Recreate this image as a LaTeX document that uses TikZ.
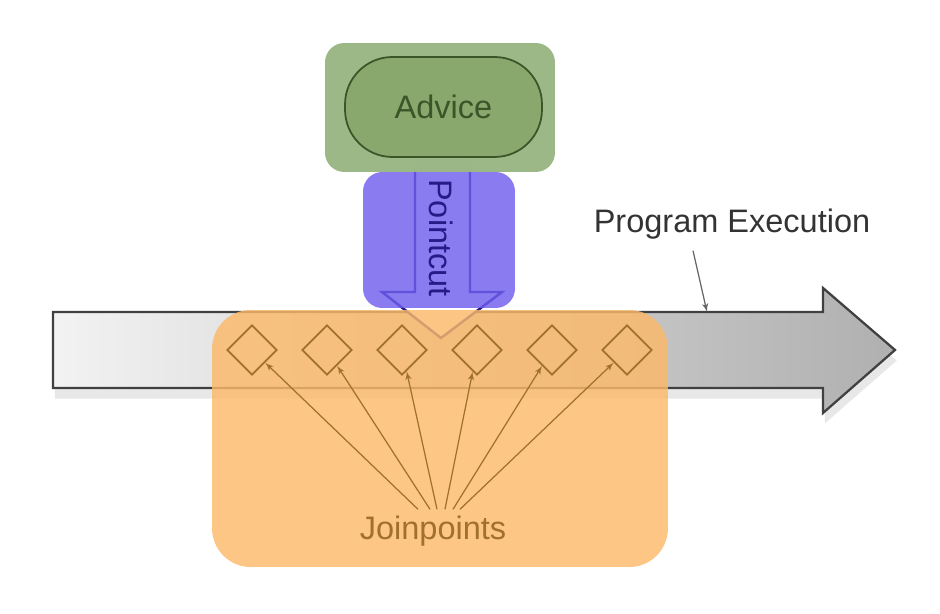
\documentclass[tikz,border=0pt]{standalone}
\usepackage{fontspec}
\setmainfont{Liberation Sans}
\usetikzlibrary{arrows,shadows,shapes.geometric}

\definecolor{jporange}{HTML}{FCB969}
\definecolor{jpbrown}{HTML}{A0702C}
\definecolor{pcblue}{HTML}{705EED}
\definecolor{pcdark}{HTML}{261A86}
\definecolor{advgreen}{HTML}{86A86D}
\definecolor{advinner}{HTML}{88A86E}
\definecolor{advdark}{HTML}{3A5628}

\begin{document}
\begin{tikzpicture}[x=0.02cm, y=-0.02cm, node distance=1.5cm, thick]
        \tikzstyle{box} = [rectangle, fill opacity=0.82, text opacity=1, inner sep=0pt]
        \tikzstyle{joint} = [diamond, draw=jpbrown, line width=1pt, minimum size=1cm, inner sep=0pt]
        \tikzstyle{txt} = [font=\fontsize{18.5}{22}\selectfont]
        \tikzstyle{line} = [draw=jpbrown, line width=0.7pt, -latex']

        \useasboundingbox (0,0) rectangle (940,614);

        % program execution
        \path [drop shadow={shadow xshift=1pt, shadow yshift=-6pt, opacity=0.18}, left color=gray!10, right color=gray!62, draw=black!75, line width=1.3pt]
            (53,312) -- (823,312) -- (823,288) -- (895,350) -- (823,413) -- (823,388) -- (53,388) -- cycle;
        \coordinate (exectop) at (707,312);

        % pointcut arrow
        \fill [white] (415,160) -- (470,160) -- (470,292) -- (502,292) -- (441,338) -- (382,292) -- (415,292) -- cycle;
        \draw [pcdark, line width=1.4pt] (415,172) -- (415,292) -- (382,292) -- (441,338) -- (502,292) -- (470,292) -- (470,172);

        \node [box, fill=advgreen, rounded corners=11pt, minimum width=4.6cm, minimum height=2.58cm] (advbox) at (440,107.5) {};
        \node [txt, draw=advdark, line width=1pt, fill=advinner, rounded corners=27pt, minimum width=3.94cm, minimum height=2cm, text=advdark] (advice) at (443.5,107) {Advice};
        \node [box, fill=pcblue, rounded corners=11pt, minimum width=3.04cm, minimum height=2.72cm] (pcbox) at (439,240) {};
        \node [box, fill=jporange, rounded corners=22pt, minimum width=9.12cm, minimum height=5.14cm] (jpbox) at (440,438.5) {};

        \node [txt, text=pcdark, rotate=-90] (pointcut) at (441,238) {Pointcut};

        \node [joint] (j1) at (252,350) {};
        \node [joint, right of=j1] (j2) {};
        \node [joint, right of=j2] (j3) {};
        \node [joint, right of=j3] (j4) {};
        \node [joint, right of=j4] (j5) {};
        \node [joint, right of=j5] (j6) {};

        \node [txt, text=jpbrown] (jp) at (433,531) {Joinpoints};

        \path [line] ([xshift=-0.3cm]jp.north) -- (j1);
        \path [line] ([xshift=-0.06cm]jp.north) -- (j2);
        \path [line] ([xshift=0.08cm]jp.north) -- (j3);
        \path [line] ([xshift=0.24cm]jp.north) -- (j4);
        \path [line] ([xshift=0.4cm]jp.north) -- (j5);
        \path [line] ([xshift=0.54cm]jp.north) -- (j6);

        \node [txt, text=black!80] (progexec) at (732,224) {Program Execution};
        \path [draw=black!60, line width=0.7pt, -latex'] ([xshift=-0.78cm, yshift=-0.1cm]progexec.south) -- (exectop);
    \end{tikzpicture}
\end{document}
